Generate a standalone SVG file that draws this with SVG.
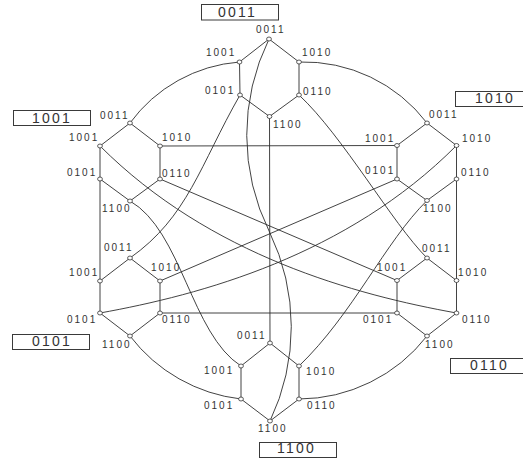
<svg xmlns="http://www.w3.org/2000/svg" width="523" height="461" viewBox="0 0 523 461">
<defs>
<style>
.e{fill:none;stroke:#2e2e2e;stroke-width:0.9}
.n ellipse{fill:#fff;stroke:#333;stroke-width:0.8}
.n text{font-family:"Liberation Sans",Arial,sans-serif;font-size:10px;letter-spacing:2px;fill:#333}
.box rect{fill:#fff;stroke:#3a3a3a;stroke-width:1}
.box text{font-family:"Liberation Sans",Arial,sans-serif;font-size:14px;letter-spacing:2.2px;fill:#333}
</style>
</defs>
<rect width="523" height="461" fill="#fff"/>

<!-- edges -->
<g id="connectors">
  <!-- hexagon rings -->
  <path class="e" d="M239.5,62 L269,39 L299,62 L299,95 L269.5,116.5 L240,95 Z"/>
  <path class="e" d="M100,146 L130,123 L160,146 L160,179 L130,201 L100,179 Z"/>
  <path class="e" d="M397,145.5 L427,123 L456.5,145.5 L456.5,179 L427,200.5 L397,179 Z"/>
  <path class="e" d="M100,281 L130,258 L160,281 L160,313 L130,336 L100,313 Z"/>
  <path class="e" d="M397,280.5 L427,258 L456.5,280.5 L456.5,313 L427,336 L397,313 Z"/>
  <path class="e" d="M241,366 L270,343 L299,366 L299,399 L270,421 L241,399 Z"/>
  <!-- outer ring -->
  <path class="e" d="M239.5,62 A150,150 0 0,0 130,123"/>
  <path class="e" d="M299,62 A155,155 0 0,1 427,123"/>
  <path class="e" d="M100,179 L100,281"/>
  <path class="e" d="M456.5,179 L456.5,280.5"/>
  <path class="e" d="M130,336 A163,163 0 0,0 241,399"/>
  <path class="e" d="M299,399 A163,163 0 0,0 427,336"/>
  <!-- straight chords -->
  <path class="e" d="M160,146 L397,145.5"/>
  <path class="e" d="M160,313 L397,313"/>
  <path class="e" d="M269.5,116.5 L270,343"/>
  <path class="e" d="M160,179 L397,280.5"/>
  <path class="e" d="M160,281 L397,179"/>
  <!-- curved chords -->
  <path class="e" d="M269,39 A218,218 0 0,0 269.5,232 A218,218 0 0,1 270,421"/>
  <path class="e" d="M240,95 C200,165 188,217 130,258"/>
  <path class="e" d="M299,95 C343,136 392,223 427,258"/>
  <path class="e" d="M130,201 C182,231 191,334 241,366"/>
  <path class="e" d="M299,366 C353,314 385,242 427,200.5"/>
  <path class="e" d="M100,146 C210,256 356.5,295 456.5,313"/>
  <path class="e" d="M456.5,145.5 C346.5,256 200,295 100,313"/>
</g>

<!-- top ring -->
<g id="t-0011" class="n"><ellipse cx="269" cy="39" rx="2.4" ry="2"/><text x="256" y="33">0011</text></g>
<g id="t-1001" class="n"><ellipse cx="239.5" cy="62" rx="2.4" ry="2"/><text x="206" y="56">1001</text></g>
<g id="t-1010" class="n"><ellipse cx="299" cy="62" rx="2.4" ry="2"/><text x="302" y="56">1010</text></g>
<g id="t-0101" class="n"><ellipse cx="240" cy="95" rx="2.4" ry="2"/><text x="205" y="94">0101</text></g>
<g id="t-0110" class="n"><ellipse cx="299" cy="95" rx="2.4" ry="2"/><text x="303" y="95">0110</text></g>
<g id="t-1100" class="n"><ellipse cx="269.5" cy="116.5" rx="2.4" ry="2"/><text x="273" y="128">1100</text></g>

<!-- left ring -->
<g id="l-0011" class="n"><ellipse cx="130" cy="123" rx="2.4" ry="2"/><text x="100" y="119">0011</text></g>
<g id="l-1001" class="n"><ellipse cx="100" cy="146" rx="2.4" ry="2"/><text x="69" y="141">1001</text></g>
<g id="l-1010" class="n"><ellipse cx="160" cy="146" rx="2.4" ry="2"/><text x="162" y="141">1010</text></g>
<g id="l-0101" class="n"><ellipse cx="100" cy="179" rx="2.4" ry="2"/><text x="67" y="175.5">0101</text></g>
<g id="l-0110" class="n"><ellipse cx="160" cy="179" rx="2.4" ry="2"/><text x="162" y="177">0110</text></g>
<g id="l-1100" class="n"><ellipse cx="130" cy="201" rx="2.4" ry="2"/><text x="102" y="212">1100</text></g>

<!-- right ring -->
<g id="r-0011" class="n"><ellipse cx="427" cy="123" rx="2.4" ry="2"/><text x="429" y="118.3">0011</text></g>
<g id="r-1001" class="n"><ellipse cx="397" cy="145.5" rx="2.4" ry="2"/><text x="365" y="141.7">1001</text></g>
<g id="r-1010" class="n"><ellipse cx="456.5" cy="145.5" rx="2.4" ry="2"/><text x="462" y="141.7">1010</text></g>
<g id="r-0101" class="n"><ellipse cx="397" cy="179" rx="2.4" ry="2"/><text x="365" y="174.2">0101</text></g>
<g id="r-0110" class="n"><ellipse cx="456.5" cy="179" rx="2.4" ry="2"/><text x="461" y="176">0110</text></g>
<g id="r-1100" class="n"><ellipse cx="427" cy="200.5" rx="2.4" ry="2"/><text x="423" y="211.5">1100</text></g>

<!-- lower-left ring -->
<g id="ll-0011" class="n"><ellipse cx="130" cy="258" rx="2.4" ry="2"/><text x="104" y="251">0011</text></g>
<g id="ll-1001" class="n"><ellipse cx="100" cy="281" rx="2.4" ry="2"/><text x="69" y="276">1001</text></g>
<g id="ll-1010" class="n"><ellipse cx="160" cy="281" rx="2.4" ry="2"/><text x="151" y="270.7">1010</text></g>
<g id="ll-0101" class="n"><ellipse cx="100" cy="313" rx="2.4" ry="2"/><text x="67" y="322.7">0101</text></g>
<g id="ll-0110" class="n"><ellipse cx="160" cy="313" rx="2.4" ry="2"/><text x="162" y="322.7">0110</text></g>
<g id="ll-1100" class="n"><ellipse cx="130" cy="336" rx="2.4" ry="2"/><text x="102" y="347.7">1100</text></g>

<!-- lower-right ring -->
<g id="lr-0011" class="n"><ellipse cx="427" cy="258" rx="2.4" ry="2"/><text x="422" y="251.7">0011</text></g>
<g id="lr-1001" class="n"><ellipse cx="397" cy="280.5" rx="2.4" ry="2"/><text x="377" y="270.7">1001</text></g>
<g id="lr-1010" class="n"><ellipse cx="456.5" cy="280.5" rx="2.4" ry="2"/><text x="458" y="275.7">1010</text></g>
<g id="lr-0101" class="n"><ellipse cx="397" cy="313" rx="2.4" ry="2"/><text x="363" y="322.7">0101</text></g>
<g id="lr-0110" class="n"><ellipse cx="456.5" cy="313" rx="2.4" ry="2"/><text x="462" y="322.7">0110</text></g>
<g id="lr-1100" class="n"><ellipse cx="427" cy="336" rx="2.4" ry="2"/><text x="425" y="347.7">1100</text></g>

<!-- bottom ring -->
<g id="b-0011" class="n"><ellipse cx="270" cy="343" rx="2.4" ry="2"/><text x="237" y="339.3">0011</text></g>
<g id="b-1001" class="n"><ellipse cx="241" cy="366" rx="2.4" ry="2"/><text x="204" y="374.3">1001</text></g>
<g id="b-1010" class="n"><ellipse cx="299" cy="366" rx="2.4" ry="2"/><text x="306" y="375">1010</text></g>
<g id="b-0101" class="n"><ellipse cx="241" cy="399" rx="2.4" ry="2"/><text x="204" y="409">0101</text></g>
<g id="b-0110" class="n"><ellipse cx="299" cy="399" rx="2.4" ry="2"/><text x="307" y="409">0110</text></g>
<g id="b-1100" class="n"><ellipse cx="270" cy="421" rx="2.4" ry="2"/><text x="258" y="432.3">1100</text></g>

<!-- ring captions -->
<g id="cap-0011" class="box"><rect x="201.5" y="4.5" width="77" height="15.5"/><text x="218" y="16.7">0011</text></g>
<g id="cap-1001" class="box"><rect x="13.5" y="110.5" width="77" height="15"/><text x="32" y="122.5">1001</text></g>
<g id="cap-1010" class="box"><rect x="455.5" y="91.5" width="77" height="15"/><text x="475" y="103.3">1010</text></g>
<g id="cap-0101" class="box"><rect x="12.5" y="334.5" width="77" height="15"/><text x="32" y="346">0101</text></g>
<g id="cap-0110" class="box"><rect x="450.5" y="358.5" width="77" height="15"/><text x="470" y="370">0110</text></g>
<g id="cap-1100" class="box"><rect x="259.5" y="442.5" width="77" height="15"/><text x="277" y="453.3">1100</text></g>
</svg>
